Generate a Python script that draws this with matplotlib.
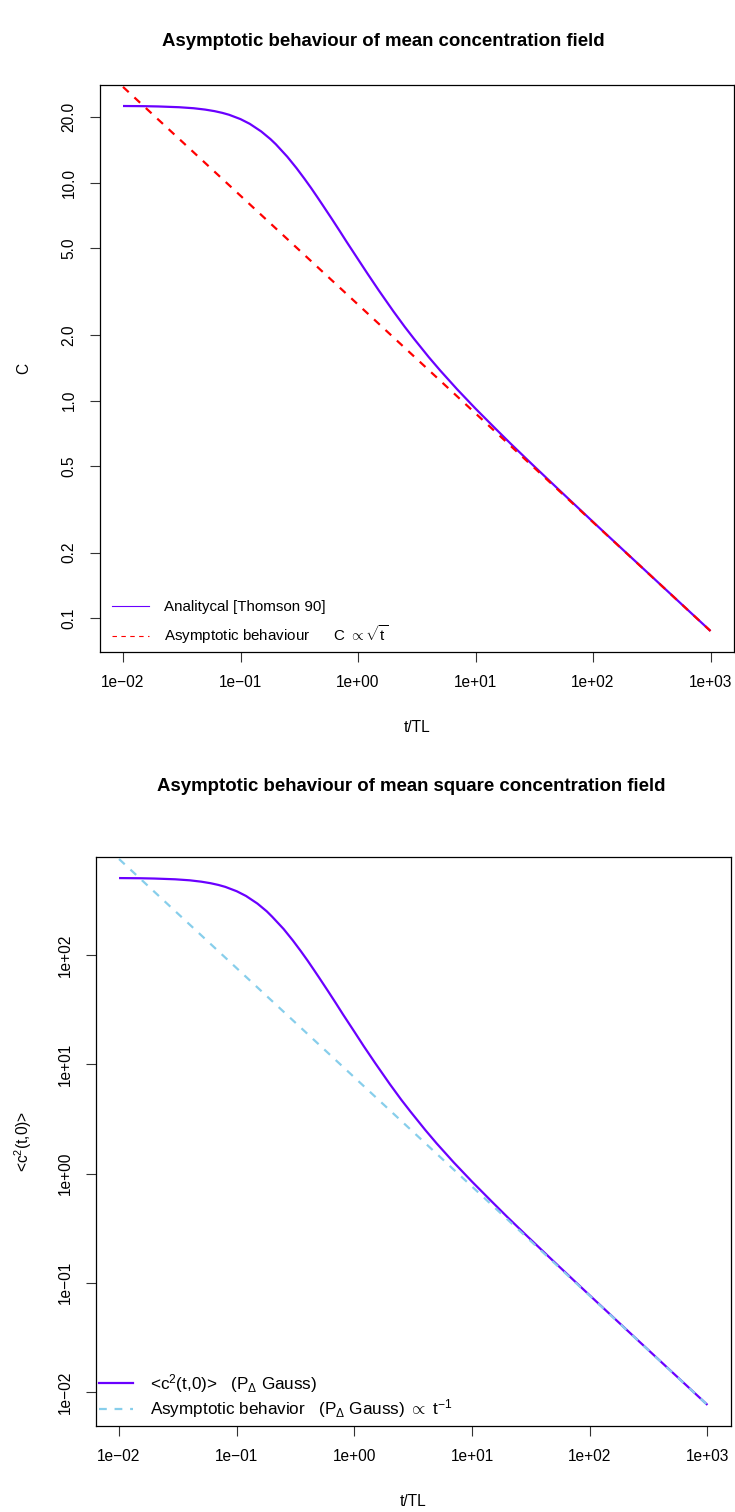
import matplotlib
matplotlib.use("Agg")
import matplotlib.pyplot as plt
from matplotlib.lines import Line2D
import numpy as np

plt.rcParams['font.family'] = ['Liberation Sans', 'DejaVu Sans']
plt.rcParams['mathtext.fontset'] = 'custom'
plt.rcParams['mathtext.rm'] = 'Liberation Sans'
plt.rcParams['mathtext.it'] = 'Liberation Sans:italic'
plt.rcParams['mathtext.bf'] = 'Liberation Sans:bold'

# time in units of the Lagrangian time scale
t = [0.01, 0.015, 0.02, 0.03, 0.04, 0.05, 0.06, 0.07, 0.08, 0.1, 0.12, 0.15,
     0.18, 0.2, 0.25, 0.3, 0.35, 0.4, 0.45, 0.5, 0.6, 0.7, 0.8, 1, 1.2, 1.5,
     2, 2.5, 3, 4, 5, 7, 10, 15, 20, 30, 50, 100, 200, 500, 1000]
# mean concentration (Thomson 1990)
conc = [22.55, 22.51, 22.44, 22.26, 22.02, 21.71, 21.36, 20.97, 20.55, 19.63,
        18.67, 17.23, 15.88, 15.04, 13.19, 11.68, 10.45, 9.45, 8.61, 7.91,
        6.82, 6.00, 5.36, 4.46, 3.84, 3.21, 2.57, 2.18, 1.92, 1.583, 1.375,
        1.124, 0.918, 0.737, 0.632, 0.512, 0.394, 0.277, 0.1955, 0.1235, 0.0873]
# mean square concentration at the centre
conc2 = [508.5, 506.7, 503.5, 495.5, 484.9, 471.3, 456.2, 439.7, 422.3, 385.3,
         348.6, 296.9, 252.2, 225.2, 174.0, 136.4, 109.2, 89.3, 74.1, 62.6,
         46.5, 36.0, 28.7, 19.9, 14.7, 10.3, 6.60, 4.75, 3.69, 2.51, 1.89,
         1.263, 0.843, 0.543, 0.399, 0.262, 0.155, 0.0767, 0.0382, 0.01525, 0.00762]

# asymptotes: C ~ t^-1/2 and <c^2> ~ t^-1
t_asym = [0.01, 1000]
conc_asym = [27.6, 0.0873]
conc2_asym = [760, 0.0076]

x_ticks = [1e-2, 1e-1, 1e0, 1e1, 1e2, 1e3]
x_labels = ['1e\u221202', '1e\u221201', '1e+00', '1e+01', '1e+02', '1e+03']
y1_ticks = [0.1, 0.2, 0.5, 1, 2, 5, 10, 20]
y1_labels = ['0.1', '0.2', '0.5', '1.0', '2.0', '5.0', '10.0', '20.0']
y2_ticks = [1e-2, 1e-1, 1e0, 1e1, 1e2]
y2_labels = ['1e\u221202', '1e\u221201', '1e+00', '1e+01', '1e+02']

purple = '#6a00ff'
W, H = 735, 1512
fs = 11.2


def rlim(vals):
    # R style 4% padding on a log axis
    lo, hi = np.log10(min(vals)), np.log10(max(vals))
    d = 0.04 * (hi - lo)
    return 10 ** (lo - d), 10 ** (hi + d)


def style(ax, yt, yl, ylab, ypad):
    ax.set_xscale('log')
    ax.set_yscale('log')
    ax.set_xlim(rlim(t))
    ax.xaxis.set_major_locator(matplotlib.ticker.FixedLocator(x_ticks))
    ax.xaxis.set_minor_locator(matplotlib.ticker.NullLocator())
    ax.yaxis.set_major_locator(matplotlib.ticker.FixedLocator(yt))
    ax.yaxis.set_minor_locator(matplotlib.ticker.NullLocator())
    ax.set_xticklabels(x_labels)
    ax.set_yticklabels(yl, rotation=90, va='center')
    ax.tick_params(length=7.5, width=0.8, pad=9, labelsize=fs, color='#333333')
    for s in ax.spines.values():
        s.set_linewidth(0.9)
    ax.set_xlabel('t/TL', fontsize=fs, labelpad=22)
    ax.set_ylabel(ylab, fontsize=fs, labelpad=ypad)


fig = plt.figure(figsize=(W / 100, H / 100), dpi=100)

ax1 = fig.add_axes([99.5 / W, 1 - 652 / H, (734 - 99.5) / W, (652 - 85) / H])
ax1.plot(t, conc, color=purple, lw=1.6, solid_capstyle='butt')
ax1.plot(t_asym, conc_asym, color='red', lw=1.6, dashes=(3.5, 3.5))
ax1.set_ylim(rlim(conc))
style(ax1, y1_ticks, y1_labels, 'C', 22)
h1 = [Line2D([], [], color=purple, lw=0.8),
      Line2D([], [], color='red', lw=0.8, dashes=(4, 4))]
ax1.legend(h1, ['Analitycal [Thomson 90]',
                r'Asymptotic behaviour      C $\propto\sqrt{\mathrm{t}}$'],
           loc='lower left', bbox_to_anchor=(0.02, 0.01), frameon=False,
           fontsize=10.9, handlelength=2.4, handletextpad=1.0, labelspacing=0.6,
           borderpad=0, borderaxespad=0)
fig.text(383 / W, 1 - 42 / H, 'Asymptotic behaviour of mean concentration field',
         ha='center', va='center', fontsize=13.4, fontweight='bold')

ax2 = fig.add_axes([95.5 / W, 1 - 1426 / H, (731 - 95.5) / W, (1426 - 857) / H])
ax2.plot(t, conc2, color=purple, lw=1.6, solid_capstyle='butt')
ax2.plot(t_asym, conc2_asym, color='skyblue', lw=1.6, dashes=(3.5, 3.5))
ax2.set_ylim(rlim(conc2))
style(ax2, y2_ticks, y2_labels, r'<c$^2$(t,0)>', 17)
h2 = [Line2D([], [], color=purple, lw=1.6),
      Line2D([], [], color='skyblue', lw=1.6, dashes=(3.5, 3.5))]
ax2.legend(h2, [r'<c$^2$(t,0)>   (P$_\Delta$ Gauss)',
                r'Asymptotic behavior   (P$_\Delta$ Gauss) $\propto$ t$^{-1}$'],
           loc='lower left', bbox_to_anchor=(0.005, 0.01), frameon=False,
           fontsize=12.3, handlelength=2.0, handletextpad=1.0, labelspacing=0.15,
           borderpad=0, borderaxespad=0)
fig.text(411 / W, 1 - 786 / H, 'Asymptotic behaviour of mean square concentration field',
         ha='center', va='center', fontsize=13.4, fontweight='bold')

fig.savefig('out.png', dpi=100)
